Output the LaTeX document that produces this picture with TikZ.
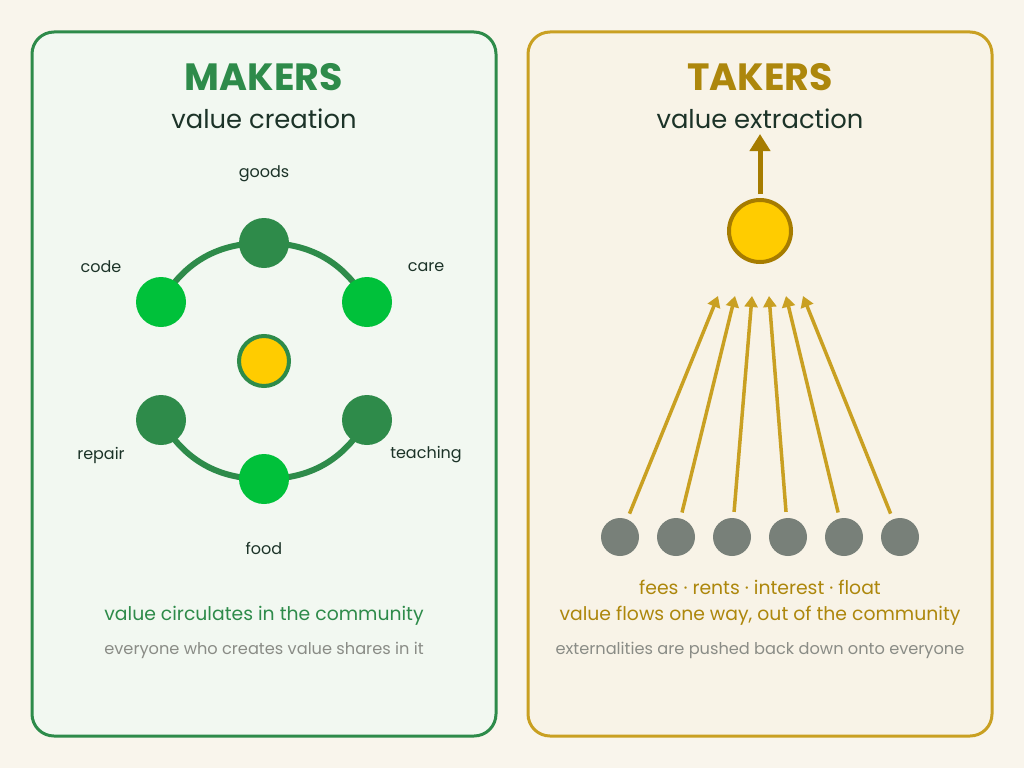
\documentclass[tikz,border=0pt]{standalone}
\usepackage{fontspec}
\setmainfont{Poppins}
\usetikzlibrary{arrows.meta,shapes,calc,positioning}
\definecolor{bgcream}{HTML}{F9F5EC}
\definecolor{makerfill}{HTML}{F2F8F1}
\definecolor{takerfill}{HTML}{F8F3E7}
\definecolor{makergreen}{HTML}{2E8B4A}
\definecolor{brightgreen}{HTML}{00C13A}
\definecolor{gold}{HTML}{FFCC00}
\definecolor{takergold}{HTML}{C9A022}
\definecolor{darkgold}{HTML}{A67C00}
\definecolor{titlegold}{HTML}{AD870C}
\definecolor{inkdark}{HTML}{1C3328}
\definecolor{softgray}{HTML}{8A8C86}
\definecolor{stonegray}{HTML}{788079}
\tikzset{
    >={Triangle[length=11pt,width=13pt]},
    panel/.style={line width=3pt, rounded corners=22pt},
    title/.style={font=\fontsize{38}{42}\selectfont\bfseries},
    subtitle/.style={font=\fontsize{25.8}{30}\selectfont, text=inkdark},
    lbl/.style={font=\fontsize{16}{19}\selectfont, text=inkdark},
    note/.style={font=\fontsize{18.8}{22}\selectfont},
    small/.style={font=\fontsize{16.2}{19}\selectfont, text=softgray},
    dot/.style={circle, inner sep=0pt, minimum size=50pt},
    maker/.style={dot, fill=makergreen},
    member/.style={dot, fill=brightgreen},
    payer/.style={circle, inner sep=0pt, minimum size=38pt, fill=stonegray},
    ring/.style={draw=makergreen, line width=6pt},
    flow/.style={->, draw=takergold, line width=3.5pt},
}

\begin{document}
\begin{tikzpicture}[x=1pt,y=-1pt]
    \fill[bgcream] (0,0) rectangle (1024,768);
    \useasboundingbox (0,0) rectangle (1024,768);

    % makers panel
    \draw[panel, draw=makergreen, fill=makerfill] (32,32) rectangle (496,736);
    \node[title, text=makergreen] (makers) at (264,77) {MAKERS};
    \node[subtitle] (creation) at (264,119) {value creation};

    % ring positions first, so the links sit under the dots
    \coordinate (goods-pos) at (264,243);
    \coordinate (code-pos) at (161,302);
    \coordinate (care-pos) at (367,302);
    \coordinate (repair-pos) at (161,420);
    \coordinate (teaching-pos) at (367,420);
    \coordinate (food-pos) at (264,479);

    \draw[ring] (code-pos) to[bend left=30] (goods-pos) to[bend left=30] (care-pos);
    \draw[ring] (repair-pos) to[bend right=30] (food-pos) to[bend right=30] (teaching-pos);

    \node[dot, fill=gold, draw=makergreen, line width=4pt, minimum size=50pt] (pool) at (264,361) {};
    \node[maker] (goods) at (goods-pos) {};
    \node[member] (code) at (code-pos) {};
    \node[member] (care) at (care-pos) {};
    \node[maker] (repair) at (repair-pos) {};
    \node[maker] (teaching) at (teaching-pos) {};
    \node[member] (food) at (food-pos) {};

    \node[lbl] at (264,174) {goods};
    \node[lbl] at (101,267) {code};
    \node[lbl] at (426,267) {care};
    \node[lbl] at (101,455) {repair};
    \node[lbl] at (426,455) {teaching};
    \node[lbl] at (264,548) {food};

    \node[note, text=makergreen] (circ) at (264,616) {value circulates in the community};
    \node[small] (share) at (264,650) {everyone who creates value shares in it};

    % takers panel
    \draw[panel, draw=takergold, fill=takerfill] (528,32) rectangle (992,736);
    \node[title, text=titlegold] (takers) at (760,77) {TAKERS};
    \node[subtitle] (extraction) at (760,119) {value extraction};

    \node[dot, fill=gold, draw=darkgold, line width=4pt, minimum size=62pt] (sink) at (760,231) {};
    \coordinate (out) at (760,134);
    \draw[-{Triangle[length=17pt,width=20pt]}, draw=darkgold, line width=5pt, shorten <=4pt] (sink) -- (out);

    \foreach \i/\x/\tx in {1/620/718,2/676/735,3/732/752,4/788/769,5/844/786,6/900/803}{
        \node[payer] (p\i) at (\x,537) {};
        \coordinate (t\i) at (\tx,296);
        \draw[flow, shorten <=6pt] (p\i) -- (t\i);
    }

    \node[note, text=titlegold] (fees) at (760,587) {fees · rents · interest · float};
    \node[note, text=titlegold] (oneway) at (760,616) {value flows one way, out of the community};
    \node[small] (extern) at (760,650) {externalities are pushed back down onto everyone};
\end{tikzpicture}
\end{document}
